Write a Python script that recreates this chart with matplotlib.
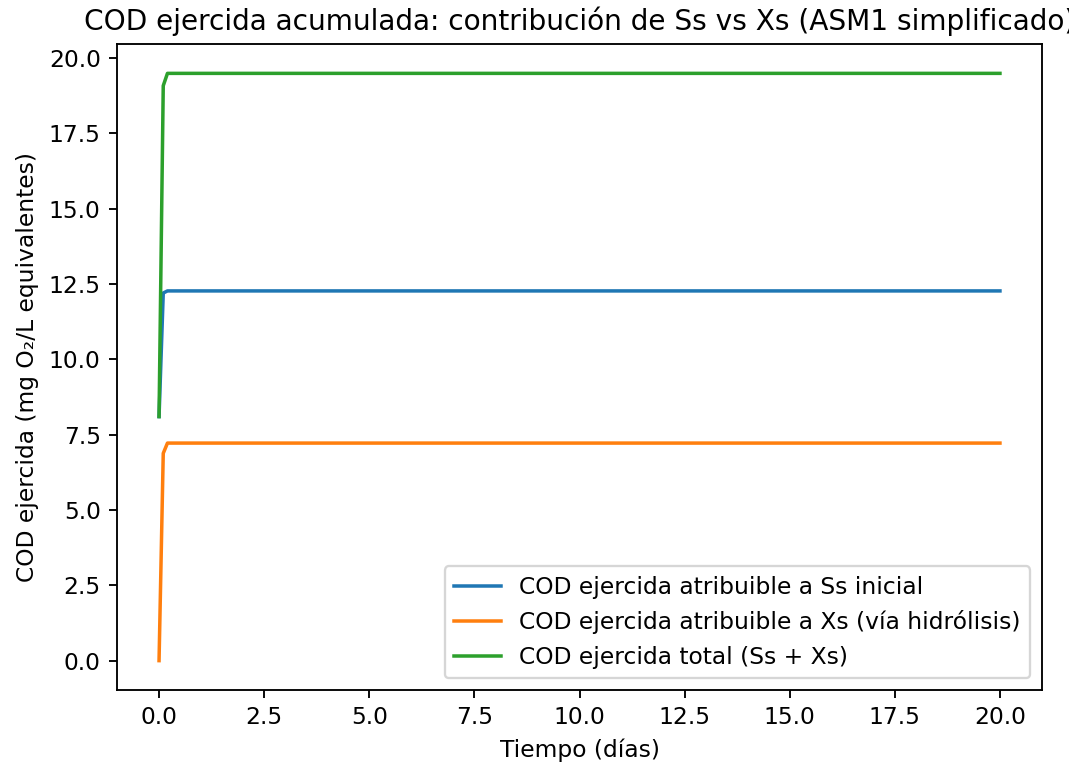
import matplotlib
matplotlib.use("Agg")
import matplotlib.pyplot as plt

# Time (days)
t = [0.0, 0.1, 0.2, 0.3, 20.0]
# Cumulative exerted COD (mg O2/L equivalents)
cod_ss = [8.10, 12.20, 12.27, 12.27, 12.27]
cod_xs = [0.00, 6.88, 7.22, 7.22, 7.22]
cod_total = [8.10, 19.08, 19.49, 19.49, 19.49]

labels = ["COD ejercida atribuible a Ss inicial",
          "COD ejercida atribuible a Xs (vía hidrólisis)",
          "COD ejercida total (Ss + Xs)"]

W, H = 1069, 765
DPI = 168
fig = plt.figure(figsize=(W / DPI, H / DPI), dpi=DPI)
ax = fig.add_axes([117 / W, 1 - 690 / H, (1042 - 117) / W, (690 - 44) / H])

ax.plot(t, cod_ss, label=labels[0])
ax.plot(t, cod_xs, label=labels[1])
ax.plot(t, cod_total, label=labels[2])

ax.set_xlabel("Tiempo (días)")
ax.set_ylabel("COD ejercida (mg O₂/L equivalentes)")
ax.set_title("COD ejercida acumulada: contribución de Ss vs Xs (ASM1 simplificado)")
ax.legend(loc="lower right")

fig.savefig("out.png", dpi=DPI)
